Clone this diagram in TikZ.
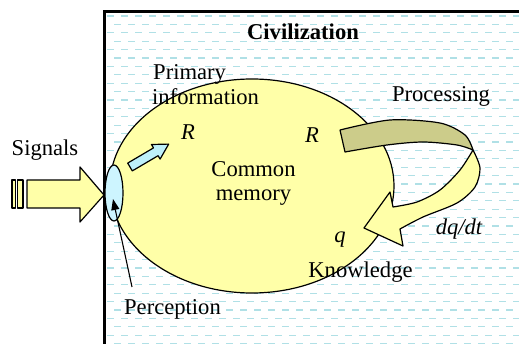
\documentclass[tikz,border=0pt]{standalone}
\usepackage{fontspec}
\setmainfont{Liberation Serif}
\usetikzlibrary{shapes.geometric,arrows.meta}

\definecolor{memyellow}{RGB}{255,255,168}
\definecolor{ribbonback}{RGB}{204,204,138}
\definecolor{sensecyan}{RGB}{205,245,255}
\definecolor{flowcyan}{RGB}{190,240,250}
\definecolor{wavecyan}{RGB}{176,224,230}

\tikzset{
  label/.style={font=\fontsize{22.6}{26}\selectfont, inner sep=0pt, anchor=base},
  outline/.style={draw=black, line width=1.2pt, line join=round},
  waves/.style={draw=wavecyan, line width=1.2pt, dash pattern=on 6.5pt off 7.5pt},
}

\begin{document}
\begin{tikzpicture}[x=1pt,y=-1pt]
\useasboundingbox (0,0) rectangle (519,344);

% civilization field with its dashed water-like texture
\begin{scope}
  \clip (104,11) rectangle (530,360);
  \fill[white] (104,11) rectangle (530,360);
  \foreach \k in {0,...,40} {
    \pgfmathsetmacro{\yy}{16+8.4*\k}
    \pgfmathsetmacro{\ph}{mod(\k,2)*7}
    \draw[waves, dash phase=\ph pt] (107,\yy) -- (530,\yy);
  }
\end{scope}
\draw[line width=2.6pt] (104.3,360) -- (104.3,11.3) -- (530,11.3);

% common memory
\node[outline, fill=memyellow, ellipse, minimum width=284pt, minimum height=214pt, inner sep=0pt] (mem) at (252,186) {};

% incoming signals
\fill[memyellow, outline] (12,180) rectangle (15.5,208);
\fill[memyellow, outline] (17.5,180) rectangle (23,208);
\fill[memyellow, outline] (27,180) -- (80,180) -- (80,167) -- (104,195)
  -- (80,222) -- (80,208) -- (27,208) -- cycle;

% perception organ
\node[outline, fill=sensecyan, ellipse, minimum width=18pt, minimum height=56pt, inner sep=0pt] (perc) at (114,193) {};

% primary information entering memory
\fill[flowcyan, outline] (132.3,170.9) -- (158.1,155.7) -- (160.1,159.1) -- (168.7,144.1)
  -- (151.5,144.5) -- (153.5,147.9) -- (127.7,163.1) -- cycle;

% processing loop: front face and back face of the ribbon
\fill[memyellow, outline] plot[smooth] coordinates {(473,150) (480,168) (475,187) (457,203) (423,217) (400,229)}
  -- (403,246) -- (364,228) -- (390,192)
  -- plot[smooth] coordinates {(393,207) (417,202) (440,190) (460,170) (473,150)} -- cycle;
\fill[ribbonback, outline] plot[smooth] coordinates {(340,130) (390,120) (440,123) (465,135) (473,150)}
  -- plot[smooth] coordinates {(473,150) (457,145) (423,142) (387,145) (345,152)} -- cycle;

% perception pointer
\coordinate (pfoot) at (132,287);
\coordinate (ptip) at (113,199);
\draw[line width=1.1pt, -{Triangle[length=11pt,width=8pt]}] (pfoot) -- (ptip);

% labels
\node[label] (tsig) at (45,156) {Signals};
\node[label, font=\bfseries\fontsize{22.6}{26}\selectfont] (tciv) at (303,40) {Civilization};
\node[label, anchor=base west] (tprim) at (153,80) {Primary};
\node[label, anchor=base west] (tinfo) at (152,105) {information};
\node[label] (tproc) at (441,102) {Processing};
\node[label] (tr1) at (188,140) {\itshape R};
\node[label] (tr2) at (312,143) {\itshape R};
\node[label] (tcom) at (253.5,177) {Common};
\node[label] (tmem) at (253.5,201) {memory};
\node[label] (tq) at (340,243) {\itshape q};
\node[label] (tdq) at (459,235) {\itshape dq/dt};
\node[label] (tknow) at (360.5,278) {Knowledge};
\node[label] (tperc) at (172.5,315) {Perception};
\end{tikzpicture}
\end{document}
